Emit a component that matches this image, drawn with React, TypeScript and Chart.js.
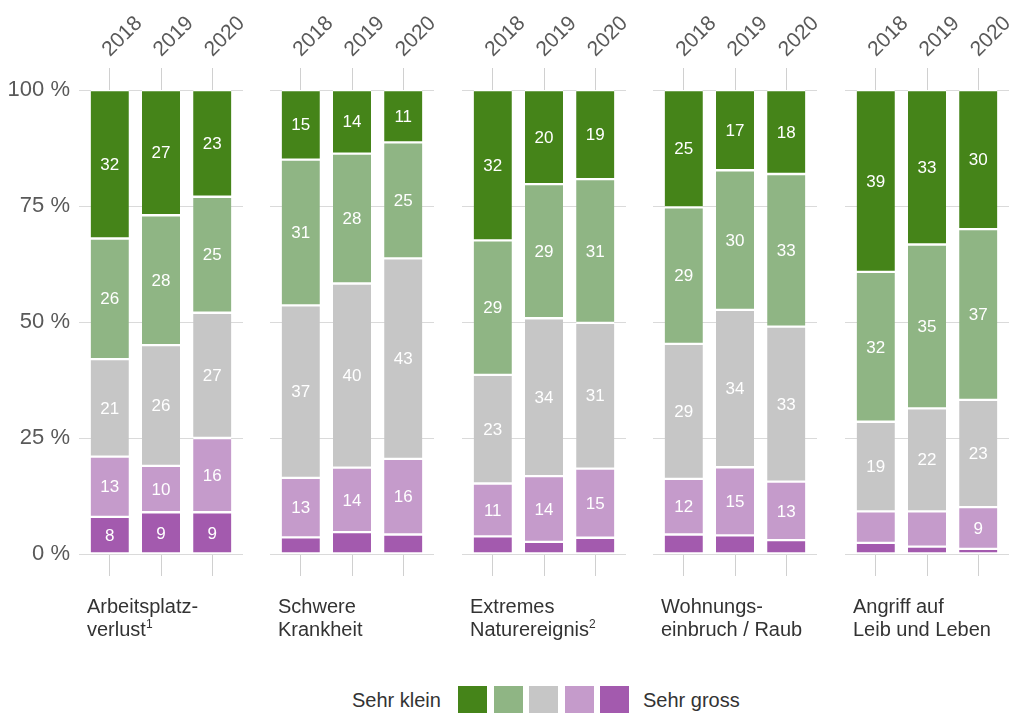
import React, { useEffect, useRef } from 'react';
import { Chart, registerables } from 'chart.js';

Chart.register(...registerables);

// ---------- data ----------
const years = ['2018', '2019', '2020'];
const panelLine1 = ['Arbeitsplatz-', 'Schwere', 'Extremes', 'Wohnungs-', 'Angriff auf'];
const panelLine2 = ['verlust', 'Krankheit', 'Naturereignis', 'einbruch / Raub', 'Leib und Leben'];
const panelNotes = ['1', '', '2', '', ''];
const yTickValues = [0, 25, 50, 75, 100];

const levelNames = ['Sehr gross', 'Gross', 'Mittel', 'Klein', 'Sehr klein'];
const levelColors = ['#a35aae', '#c59bcb', '#c6c6c6', '#8fb584', '#458419'];

// 15 values each: 5 panels x 3 years (2018, 2019, 2020)
const sehrGross = [8, 9, 9, 3.6, 4.7, 4.2, 3.8, 2.6, 3.5, 4.2, 4.0, 3.0, 2.4, 1.6, 1.1];
const gross = [13, 10, 16, 12.8, 13.9, 16.3, 11.4, 14.2, 14.9, 12.0, 14.7, 12.6, 6.8, 7.6, 9.0];
const mittel = [21, 26, 27, 37.2, 39.7, 43.2, 23.4, 34.0, 31.4, 29.1, 33.9, 33.4, 19.3, 22.2, 23.1];
const klein = [26, 28, 25, 31.4, 28.0, 25.0, 29.0, 28.9, 31.0, 29.4, 30.1, 32.9, 32.3, 35.3, 36.8];
const sehrKlein = [32, 27, 23, 15.0, 13.7, 11.3, 32.4, 20.3, 19.2, 25.3, 17.3, 18.1, 39.2, 33.3, 30.0];

const seriesList = [sehrGross, gross, mittel, klein, sehrKlein];
const labelThreshold = 8;

// ---------- layout ----------
const FONT = '"Liberation Sans", Arial, Helvetica, sans-serif';
const panelLefts = [0, 191, 383, 574, 766];
const Y_AXIS_W = 79;
const CANVAS_W = 273;
const CANVAS_H = 600;

const valueLabels = {
  id: 'valueLabels',
  afterDatasetsDraw(chart: any) {
    const ctx = chart.ctx;
    ctx.save();
    ctx.font = `17px ${FONT}`;
    ctx.fillStyle = '#ffffff';
    ctx.textAlign = 'center';
    ctx.textBaseline = 'middle';
    chart.data.datasets.forEach((ds: any, di: number) => {
      const meta = chart.getDatasetMeta(di);
      meta.data.forEach((el: any, i: number) => {
        const v = ds.data[i].y;
        if (v < labelThreshold) return;
        const p = el.getProps(['x', 'y', 'base'], true);
        ctx.fillText(String(Math.round(v)), p.x, (p.y + p.base) / 2 + 1);
      });
    });
    ctx.restore();
  },
};

function Panel({ index }: { index: number }) {
  const ref = useRef<HTMLCanvasElement>(null);
  useEffect(() => {
    if (!ref.current) return;
    const start = index * 3;
    const datasets = seriesList.map((s, li) => ({
      label: levelNames[li],
      data: years.map((_, yi) => ({ x: yi, y: s[start + yi] })),
      backgroundColor: levelColors[li],
      borderColor: '#ffffff',
      borderWidth: { top: 1.5, bottom: 1.5, left: 0, right: 0 },
      borderSkipped: false,
      barThickness: 38,
    }));
    const xCommon = {
      type: 'linear' as const,
      min: -0.6,
      max: 2.6,
      offset: false,
      stacked: true,
      afterBuildTicks: (s: any) => {
        s.ticks = years.map((_, i) => ({ value: i }));
      },
      border: { display: false },
    };
    const chart = new Chart(ref.current, {
      type: 'bar',
      data: { datasets: datasets as any },
      options: {
        animation: false,
        responsive: false,
        layout: { padding: { left: 0, right: CANVAS_W - Y_AXIS_W - 164, top: 0, bottom: 0 } },
        plugins: { legend: { display: false }, tooltip: { enabled: false } },
        scales: {
          x: {
            ...xCommon,
            position: 'top',
            afterFit: (s: any) => {
              s.height = 90;
              s.paddingLeft = 0;
              s.paddingRight = 0;
            },
            ticks: {
              autoSkip: false,
              minRotation: 45,
              maxRotation: 45,
              padding: 6,
              labelOffset: 14,
              font: { size: 21, family: FONT },
              color: '#595959',
              callback: (v: any) => years[v as number],
            },
            grid: { offset: false, drawOnChartArea: false, drawTicks: true, tickLength: 22, color: '#d0d0d0' },
          },
          x2: {
            ...xCommon,
            position: 'bottom',
            afterFit: (s: any) => {
              s.height = 46;
              s.paddingLeft = 0;
              s.paddingRight = 0;
            },
            ticks: { display: false },
            grid: { offset: false, drawOnChartArea: false, drawTicks: true, tickLength: 22, color: '#d0d0d0' },
          },
          y: {
            min: 0,
            max: 100,
            stacked: true,
            afterFit: (s: any) => {
              s.width = Y_AXIS_W;
              s.paddingTop = 0;
              s.paddingBottom = 0;
            },
            afterBuildTicks: (s: any) => {
              s.ticks = yTickValues.map((v) => ({ value: v }));
            },
            ticks: {
              display: index === 0,
              padding: 9,
              font: { size: 22, family: FONT },
              color: '#595959',
              callback: (v: any) => `${v} %`,
            },
            grid: { color: '#dadada', drawTicks: false, lineWidth: 1 },
            border: { display: false },
          },
        },
      } as any,
      plugins: [valueLabels],
    });
    return () => chart.destroy();
  }, [index]);

  return (
    <canvas
      ref={ref}
      width={CANVAS_W}
      height={CANVAS_H}
      style={{ position: 'absolute', left: panelLefts[index], top: 0, width: CANVAS_W, height: CANVAS_H, display: 'block' }}
    />
  );
}

export default function App() {
  const textStyle: React.CSSProperties = {
    position: 'absolute',
    fontFamily: FONT,
    fontSize: 20,
    lineHeight: '23px',
    color: '#333333',
    whiteSpace: 'nowrap',
  };
  return (
    <div
      style={{
        position: 'absolute',
        left: 0,
        top: 0,
        width: 1009,
        height: 713,
        overflow: 'hidden',
        background: '#ffffff',
      }}
    >
      {panelLine1.map((_, i) => (
        <Panel key={i} index={i} />
      ))}
      {panelLine1.map((l1, i) => (
        <div key={'lbl' + i} style={{ ...textStyle, left: panelLefts[i] + Y_AXIS_W + 8, top: 595 }}>
          {l1}
          <br />
          {panelLine2[i]}
          {panelNotes[i] && (
            <sup style={{ fontSize: 12, lineHeight: 0, verticalAlign: 'super' }}>{panelNotes[i]}</sup>
          )}
        </div>
      ))}
      <div style={{ ...textStyle, left: 352, top: 689 }}>{levelNames[4]}</div>
      {[...levelColors].reverse().map((c, i) => (
        <div
          key={'box' + i}
          style={{
            position: 'absolute',
            left: Math.round(458 + i * 35.5),
            top: 686,
            width: 29,
            height: 29,
            background: c,
          }}
        />
      ))}
      <div style={{ ...textStyle, left: 643, top: 689 }}>{levelNames[0]}</div>
    </div>
  );
}
